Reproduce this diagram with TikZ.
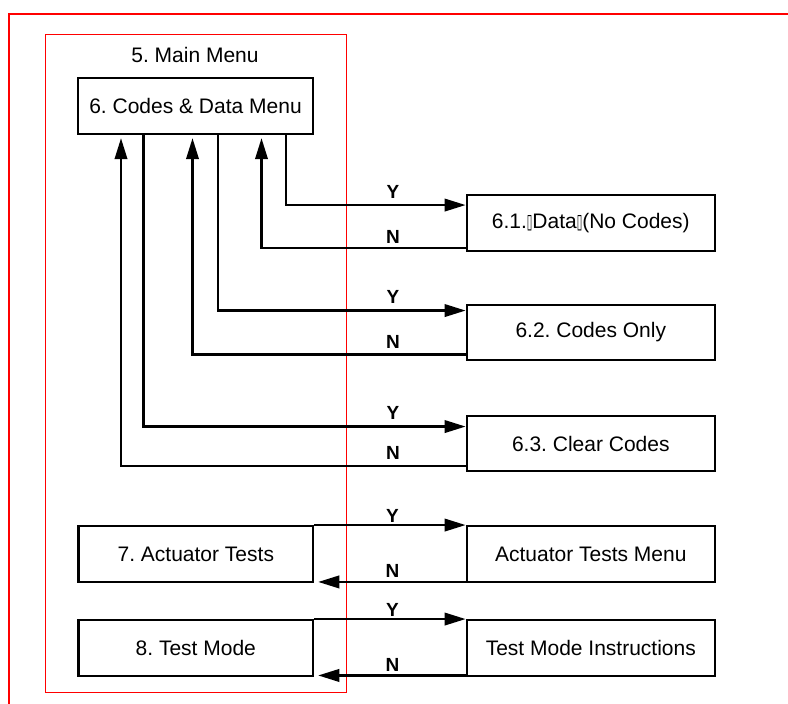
\documentclass[tikz,border=0pt]{standalone}
\usepackage{fontspec}
\usepackage{graphicx}
\setmainfont{Liberation Sans}
\newfontfamily\dejavu{DejaVu Sans}
\usetikzlibrary{arrows.meta}
\newcommand{\tofu}{{\dejavu\resizebox{5.5pt}{13pt}{▯}}}
\frenchspacing
\tikzset{
  box/.style={draw=black, line width=2.4pt, inner sep=0pt, minimum height=55.5pt,
    font=\fontsize{21}{25}\selectfont, text=black},
  lbox/.style={box, minimum width=234.5pt},
  rbox/.style={box, minimum width=248pt},
  conn/.style={draw=black, line width=2.2pt, -{Triangle[length=21pt,width=12.5pt]}},
  yn/.style={font=\bfseries\fontsize{19}{22}\selectfont, text=black, inner sep=0pt},
  title/.style={font=\fontsize{21}{25}\selectfont, text=black, inner sep=0pt}
}
\begin{document}
\begin{tikzpicture}[x=1pt,y=-1pt]
\useasboundingbox (0,0) rectangle (788,704);
\fill[white] (0,0) rectangle (788,704);
% outer red frame (cropped)
\draw[red, line width=2.8pt] (9,720) -- (9,14) -- (800,14);
% inner red frame
\draw[red, line width=1pt] (45,34) rectangle (346.5,692.5);

\node[title] (t5) at (195,55) {5. Main Menu};
\node[box, minimum width=235pt, minimum height=56pt] (m6) at (195.5,106) {6. Codes \& Data Menu};

\node[rbox] (d61) at (590.8,223) {6.1.\tofu Data\tofu(No Codes)};
\node[rbox] (d62) at (590.8,332.5) {6.2. Codes Only};
\node[rbox] (d63) at (590.8,443.5) {6.3. Clear Codes};

\node[lbox] (b7) at (195.8,554) {7. Actuator Tests};
\node[rbox] (atm) at (590.8,554) {Actuator Tests Menu};
\node[lbox] (b8) at (195.8,648) {8. Test Mode};
\node[rbox] (tmi) at (590.8,648) {Test Mode Instructions};

% columns under the main box
\coordinate (c1) at (121,0);
\coordinate (c2) at (143.5,0);
\coordinate (c3) at (192.5,0);
\coordinate (c4) at (218.3,0);
\coordinate (c5) at (261.5,0);
\coordinate (c6) at (286,0);

% 6.1
\draw[conn] (m6.south -| c6) |- ([yshift=-11pt]d61.north west);
\draw[conn, shorten >=3pt] ([yshift=4pt]d61.south west) -| (m6.south -| c5);
% 6.2
\draw[conn] (m6.south -| c4) |- ([yshift=-7pt]d62.north west);
\draw[conn, shorten >=3pt] ([yshift=7pt]d62.south west) -| (m6.south -| c3);
% 6.3
\draw[conn] (m6.south -| c2) |- ([yshift=-12pt]d63.north west);
\draw[conn, shorten >=3pt] ([yshift=6.5pt]d63.south west) -| (m6.south -| c1);
% 7
\draw[conn] (b7.north east) -- (atm.north west);
\draw[conn, shorten >=4pt] ([yshift=1pt]atm.south west) -- ([yshift=1pt]b7.south east);
% 8
\draw[conn] (b8.north east) -- (tmi.north west);
\draw[conn, shorten >=4pt] ([yshift=1.5pt]tmi.south west) -- ([yshift=1.5pt]b8.south east);

% labels
\node[yn] (y1) at (393,192) {Y};
\node[yn] (n1) at (393,237) {N};
\node[yn] (y2) at (393,297) {Y};
\node[yn] (n2) at (393,342) {N};
\node[yn] (y3) at (393,413) {Y};
\node[yn] (n3) at (393,453) {N};
\node[yn] (y4) at (392.5,516) {Y};
\node[yn] (n4) at (392.5,571) {N};
\node[yn] (y5) at (392.5,609.5) {Y};
\node[yn] (n5) at (392.5,665) {N};
\end{tikzpicture}
\end{document}
